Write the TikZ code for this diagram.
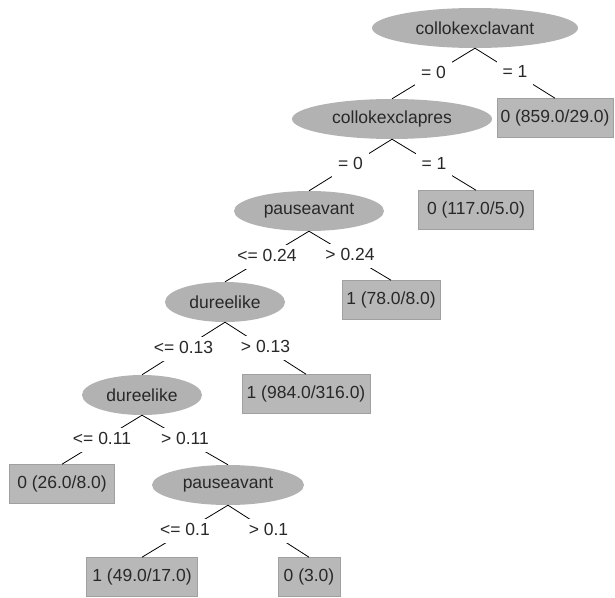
\documentclass[tikz,border=0pt]{standalone}
\usepackage{fontspec}
\setmainfont{Liberation Sans}
\usetikzlibrary{shapes.geometric}
\definecolor{nodegray}{RGB}{178,178,178}
\definecolor{boxgray}{RGB}{184,184,184}
\definecolor{boxedge}{RGB}{160,160,160}
\definecolor{txt}{RGB}{40,40,40}
\begin{document}
\begin{tikzpicture}[x=1pt,y=-1pt,
  every node/.style={font=\fontsize{17.5}{20}\selectfont, text=txt},
  attr/.style={ellipse, fill=nodegray, minimum height=40pt, inner sep=0pt},
  leaf/.style={rectangle, fill=boxgray, draw=boxedge, line width=0.6pt, minimum height=39pt, inner sep=0pt},
  lbl/.style={fill=white, inner xsep=6pt, inner ysep=4.5pt, text height=12pt, text depth=3pt},
  edge/.style={draw=black, line width=0.8pt}]
\useasboundingbox (0,0) rectangle (615,597);
% nodes
\node[attr, minimum width=206pt] (n1) at (475,28) {collokexclavant};
\node[attr, minimum width=200pt] (n2) at (392,119) {collokexclapres};
\node[leaf, minimum width=116pt] (b859) at (555,118) {0 (859.0/29.0)};
\node[attr, minimum width=150pt] (n3) at (309,211) {pauseavant};
\node[leaf, minimum width=115pt] (b117) at (476,210) {0 (117.0/5.0)};
\node[attr, minimum width=120pt] (n4) at (225,302) {dureelike};
\node[leaf, minimum width=98pt] (b78) at (391,300) {1 (78.0/8.0)};
\node[attr, minimum width=120pt] (n5) at (142,395) {dureelike};
\node[leaf, minimum width=128pt] (b984) at (306,394) {1 (984.0/316.0)};
\node[leaf, minimum width=105pt] (b26) at (62,484) {0 (26.0/8.0)};
\node[attr, minimum width=152pt] (n6) at (228,485) {pauseavant};
\node[leaf, minimum width=111pt] (b49) at (142,577) {1 (49.0/17.0)};
\node[leaf, minimum width=62pt] (b3) at (309,577) {0 (3.0)};
% edges
\draw[edge] (n1.south) -- node[lbl]{= 0} (n2.north);
\draw[edge] (n1.south) -- node[lbl]{= 1} (b859.north);
\draw[edge] (n2.south) -- node[lbl]{= 0} (n3.north);
\draw[edge] (n2.south) -- node[lbl]{= 1} (b117.north);
\draw[edge] (n3.south) -- node[lbl]{<= 0.24} (n4.north);
\draw[edge] (n3.south) -- node[lbl]{> 0.24} (b78.north);
\draw[edge] (n4.south) -- node[lbl]{<= 0.13} (n5.north);
\draw[edge] (n4.south) -- node[lbl]{> 0.13} (b984.north);
\draw[edge] (n5.south) -- node[lbl]{<= 0.11} (b26.north);
\draw[edge] (n5.south) -- node[lbl]{> 0.11} (n6.north);
\draw[edge] (n6.south) -- node[lbl]{<= 0.1} (b49.north);
\draw[edge] (n6.south) -- node[lbl]{> 0.1} (b3.north);
\end{tikzpicture}
\end{document}
